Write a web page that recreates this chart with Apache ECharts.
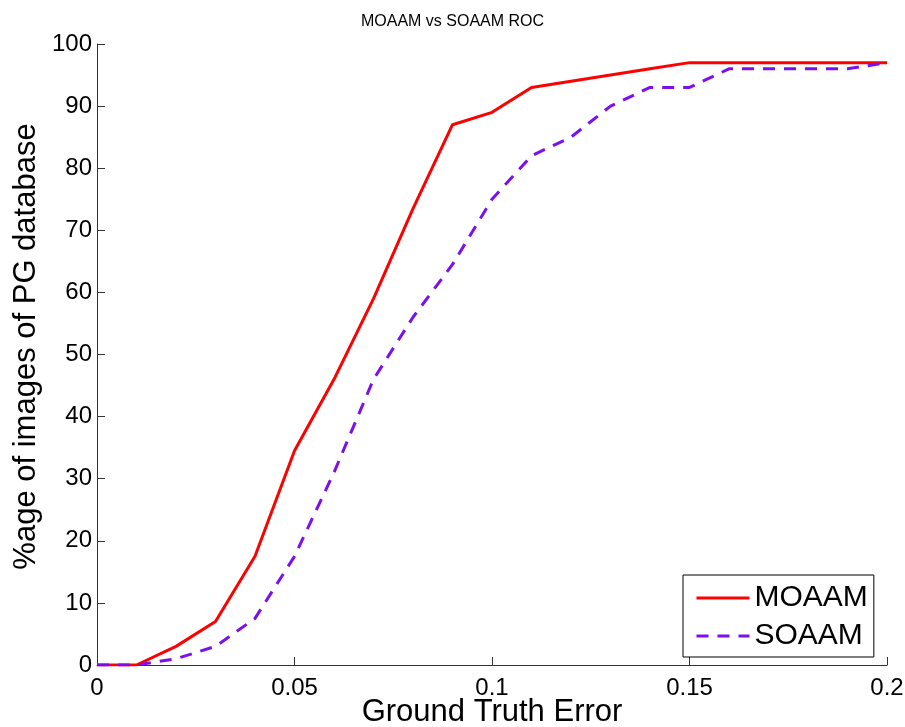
<!DOCTYPE html>
<html>
<head>
<meta charset="utf-8">
<script src="https://cdn.jsdelivr.net/npm/echarts@6/dist/echarts.min.js"></script>
<style>html,body{margin:0;padding:0;background:#fff;overflow:hidden}#c{width:905px;height:727px}</style>
</head>
<body>
<div id="c"></div>
<script>
const errors = [0, 0.01, 0.02, 0.03, 0.04, 0.05, 0.06, 0.07, 0.08, 0.09, 0.10, 0.11, 0.12, 0.13, 0.14, 0.15, 0.16, 0.17, 0.18, 0.19, 0.20];
const moaam = [0, 0, 3, 7, 17.5, 34.5, 46, 59, 73.5, 87, 89, 93, 94, 95, 96, 97, 97, 97, 97, 97, 97];
const soaam = [0, 0, 1, 3, 7.5, 17.5, 31, 46, 56, 64.5, 75, 82, 85, 90, 93, 93, 96, 96, 96, 96, 97];
const seriesNames = ['MOAAM', 'SOAAM'];
const titleText = 'MOAAM vs SOAAM ROC';
const xName = 'Ground Truth Error';
const yName = '%age of images of PG database';

const FONT = 'Liberation Sans, Arial, sans-serif';
const chart = echarts.init(document.getElementById('c'), null, {renderer: 'canvas', width: 905, height: 727});
const pairs = (ys) => errors.map((x, i) => [x, ys[i]]);
chart.setOption({
  animation: false,
  backgroundColor: '#fff',
  title: {
    text: titleText, left: 'center', top: 9,
    textStyle: {fontFamily: FONT, fontSize: 16, fontWeight: 'normal', color: '#000'}
  },
  grid: {left: 97, top: 44, width: 790, height: 621, containLabel: false, outerBoundsMode: 'none'},
  legend: {
    orient: 'vertical', left: 683, top: 575,
    padding: [8, 6, 6, 12], itemGap: 8, itemWidth: 53, itemHeight: 14, itemTextGap: 7,
    borderColor: '#000', borderWidth: 1, backgroundColor: '#fff',
    itemStyle: {color: 'rgba(0,0,0,0)', borderWidth: 0, opacity: 0},
    lineStyle: {width: 3},
    textStyle: {fontFamily: FONT, fontSize: 30, color: '#000'},
    data: seriesNames
  },
  xAxis: {
    type: 'value', min: 0, max: 0.2, interval: 0.05,
    name: xName, nameLocation: 'middle', nameGap: 32, nameMoveOverlap: false,
    nameTextStyle: {fontFamily: FONT, fontSize: 31, color: '#000'},
    axisLine: {lineStyle: {color: '#333', width: 1}},
    axisTick: {inside: true, length: 8, lineStyle: {color: '#333'}},
    axisLabel: {fontFamily: FONT, fontSize: 24, color: '#000', margin: 11},
    splitLine: {show: false}
  },
  yAxis: {
    type: 'value', min: 0, max: 100, interval: 10,
    name: yName, nameLocation: 'middle', nameGap: 55, nameRotate: 90, nameMoveOverlap: false,
    nameTextStyle: {fontFamily: FONT, fontSize: 31, color: '#000', padding: [0, 0, 0, 16]},
    axisLine: {show: true, lineStyle: {color: '#333', width: 1}},
    axisTick: {show: true, inside: true, length: 8, lineStyle: {color: '#333'}},
    axisLabel: {fontFamily: FONT, fontSize: 24, color: '#000', margin: 5},
    splitLine: {show: false}
  },
  series: [
    {
      name: seriesNames[0], type: 'line', data: pairs(moaam), symbol: 'none', z: 3,
      lineStyle: {color: '#ff0000', width: 3}, itemStyle: {color: '#ff0000'}
    },
    {
      name: seriesNames[1], type: 'line', data: pairs(soaam), symbol: 'none', z: 4,
      lineStyle: {color: '#7b10ee', width: 3, type: [12, 9]}, itemStyle: {color: '#7b10ee'}
    }
  ]
});
</script>
</body>
</html>
